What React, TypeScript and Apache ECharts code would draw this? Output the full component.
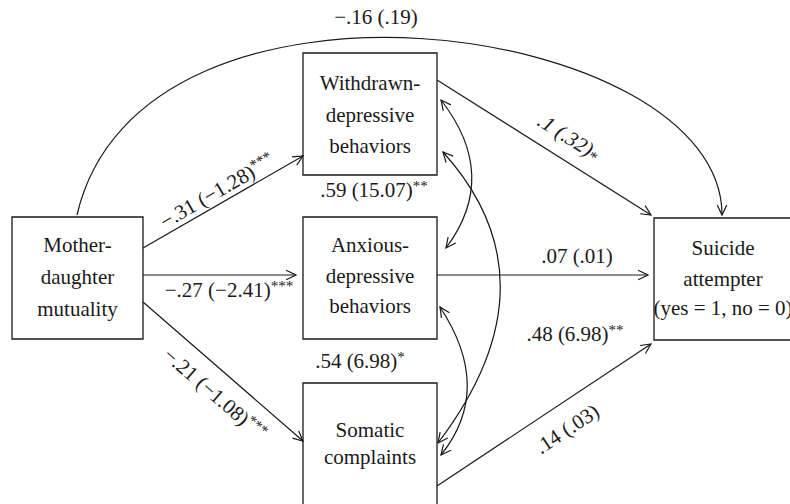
import React, { useEffect, useRef } from "react";
import * as echarts from "echarts";

// ---- data ----
const nodeNames: string[][] = [
  ["Mother-", "daughter", "mutuality"],
  ["Withdrawn-", "depressive", "behaviors"],
  ["Anxious-", "depressive", "behaviors"],
  ["Somatic", "complaints"],
  ["Suicide", "attempter", "(yes = 1, no = 0)"],
];
// paths: M→W, M→A, M→S, W→Su, A→Su, S→Su, M→Su
const pathEstimates = ["−.31", "−.27", "−.21", ".1", ".07", ".14", "−.16"];
const pathStats = ["(−1.28)", "(−2.41)", "(−1.08)", "(.32)", "(.01)", "(.03)", "(.19)"];
const pathStars = ["***", "***", "***", "*", "", "", ""];
// covariances: W–A, A–S, W–S
const covEstimates = [".59", ".54", ".48"];
const covStats = ["(15.07)", "(6.98)", "(6.98)"];
const covStars = ["**", "*", "**"];

// ---- layout ----
const INK = "#1a1a1a";
const FAMILY = "Liberation Serif";
const FS = 21;

const boxLayout = [
  { x: 12, y: 217, w: 131, h: 122, cx: 77.5, ys: [245, 277, 309] },
  { x: 303, y: 53, w: 134, h: 122, cx: 370, ys: [83, 115, 146] },
  { x: 303, y: 217, w: 134, h: 122, cx: 370, ys: [245, 276, 306] },
  { x: 303, y: 383, w: 134, h: 140, cx: 370, ys: [430, 457] },
  { x: 654, y: 218, w: 150, h: 122, cx: 723, ys: [248, 279, 308] },
];
const straightPaths = [
  [143, 248, 303, 156],
  [143, 275, 296, 275],
  [143, 302, 303, 441],
  [437, 80, 651, 215],
  [437, 275, 648, 275],
  [437, 486, 651, 344],
];
const topCurve = { x1: 77, y1: 215, cpx1: 140, cpy1: -60, cpx2: 722, cpy2: 20, x2: 722, y2: 215 };
const covCurves = [
  [441, 100, 500, 176, 446, 248],
  [440, 307, 494, 389, 441, 455],
  [443, 152, 560, 282, 438, 443],
];
const pathLabelPos = [
  { x: 217, y: 191, r: 30 },
  { x: 229, y: 290, r: 0 },
  { x: 215, y: 394, r: -41 },
  { x: 569, y: 137, r: -32, italic: true },
  { x: 577, y: 256, r: 0 },
  { x: 567, y: 429, r: 33.6 },
  { x: 376, y: 17, r: 0 },
];
const covLabelPos = [
  { x: 374, y: 190 },
  { x: 360, y: 361 },
  { x: 575, y: 334 },
];

function arrowHead(tx: number, ty: number, fx: number, fy: number) {
  const ang = Math.atan2(ty - fy, tx - fx);
  const L = 11;
  const a = 0.45;
  return {
    type: "polyline",
    shape: {
      points: [
        [tx - L * Math.cos(ang - a), ty - L * Math.sin(ang - a)],
        [tx, ty],
        [tx - L * Math.cos(ang + a), ty - L * Math.sin(ang + a)],
      ],
    },
    style: { stroke: INK, lineWidth: 1.2, fill: "none" },
  };
}

function richLabel(main: string, stars: string, x: number, y: number, rotDeg: number, italic = false) {
  const text = stars ? `{a|${main}}{s|${stars}}` : `{a|${main}}`;
  return {
    type: "text",
    x,
    y,
    rotation: (rotDeg * Math.PI) / 180,
    style: {
      text,
      align: "center",
      verticalAlign: "middle",
      fill: INK,
      rich: {
        a: { font: `${italic ? "italic " : ""}${FS}px ${FAMILY}`, lineHeight: 24, fill: INK },
        s: italic
          ? { font: `16px ${FAMILY}`, lineHeight: 12, verticalAlign: "bottom", fill: INK }
          : { font: `15px ${FAMILY}`, lineHeight: 14, verticalAlign: "top", fill: INK },
      },
    },
  };
}

export default function App() {
  const ref = useRef<HTMLDivElement>(null);
  useEffect(() => {
    document.body.style.margin = "0";
    const chart = echarts.init(ref.current!, null, { renderer: "svg" });
    const els: any[] = [];

    boxLayout.forEach((b, i) => {
      els.push({
        type: "rect",
        shape: { x: b.x, y: b.y, width: b.w, height: b.h },
        style: { fill: "#fff", stroke: INK, lineWidth: 1.3 },
      });
      nodeNames[i].forEach((line, j) => {
        els.push({
          type: "text",
          x: b.cx,
          y: b.ys[j],
          style: { text: line, align: "center", verticalAlign: "middle", font: `${FS}px ${FAMILY}`, fill: INK },
        });
      });
    });

    straightPaths.forEach(([x1, y1, x2, y2]) => {
      els.push({ type: "line", shape: { x1, y1, x2, y2 }, style: { stroke: INK, lineWidth: 1.2 } });
      els.push(arrowHead(x2, y2, x1, y1));
    });
    els.push({ type: "bezierCurve", shape: topCurve, style: { stroke: INK, lineWidth: 1.2, fill: "none" } });
    els.push(arrowHead(topCurve.x2, topCurve.y2, topCurve.cpx2, topCurve.cpy2));
    covCurves.forEach(([x1, y1, cx, cy, x2, y2]) => {
      els.push({
        type: "bezierCurve",
        shape: { x1, y1, cpx1: cx, cpy1: cy, x2, y2 },
        style: { stroke: INK, lineWidth: 1.2, fill: "none" },
      });
      els.push(arrowHead(x1, y1, cx, cy));
      els.push(arrowHead(x2, y2, cx, cy));
    });
    pathEstimates.forEach((est, i) => {
      const p = pathLabelPos[i];
      els.push(richLabel(`${est} ${pathStats[i]}`, pathStars[i], p.x, p.y, p.r, !!p.italic));
    });
    covEstimates.forEach((est, i) => {
      const p = covLabelPos[i];
      els.push(richLabel(`${est} ${covStats[i]}`, covStars[i], p.x, p.y, 0));
    });

    chart.setOption({ animation: false, backgroundColor: "#fff", graphic: { elements: els } });
    return () => chart.dispose();
  }, []);
  return <div ref={ref} style={{ position: "absolute", left: 0, top: 0, width: 790, height: 504 }} />;
}
